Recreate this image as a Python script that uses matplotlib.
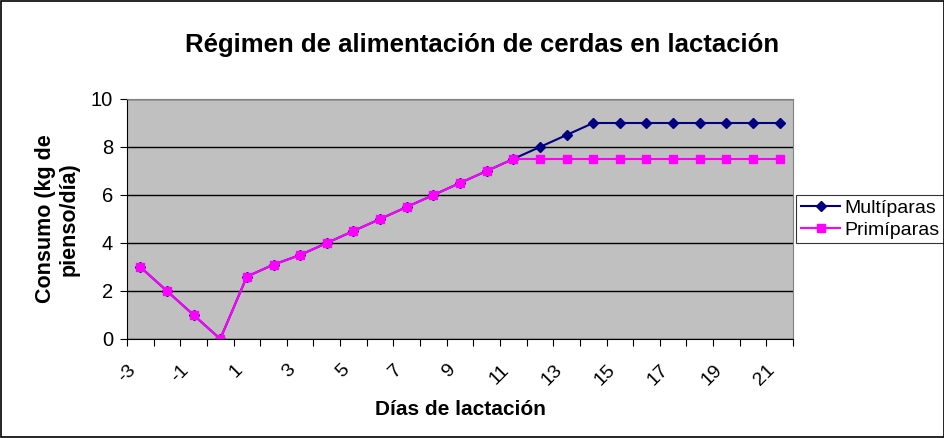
import matplotlib
matplotlib.use("Agg")
import matplotlib.pyplot as plt
import matplotlib.transforms as mtransforms
from matplotlib.patches import Rectangle
import numpy as np

dias = list(range(-3, 22))
multiparas = [3, 2, 1, 0, 2.6, 3.1, 3.5, 4, 4.5, 5, 5.5, 6, 6.5, 7, 7.5,
              8, 8.5, 9, 9, 9, 9, 9, 9, 9, 9]
primiparas = [3, 2, 1, 0, 2.6, 3.1, 3.5, 4, 4.5, 5, 5.5, 6, 6.5, 7, 7.5,
              7.5, 7.5, 7.5, 7.5, 7.5, 7.5, 7.5, 7.5, 7.5, 7.5]
yticks = [0, 2, 4, 6, 8, 10]

plt.rcParams["font.family"] = ["Liberation Sans", "DejaVu Sans"]

fig = plt.figure(figsize=(9.45, 4.38), dpi=100)
ax = fig.add_axes([127 / 945, 99 / 438, 666 / 945, 240 / 438])
ax.set_facecolor("#C0C0C0")

x = np.arange(len(dias))
ax.plot(x, multiparas, color="#000080", marker="D", markersize=5, lw=1.5,
        label="Multíparas")
ax.plot(x, primiparas, color="#FF00FF", marker="s", markersize=6, lw=1.5,
        label="Primíparas")

ax.set_xlim(-0.5, len(dias) - 0.5)
ax.set_ylim(0, 10)
ax.set_yticks(yticks)
ax.yaxis.grid(True, color="black", lw=1)
ax.set_axisbelow(True)

# category ticks between points, labels every other category
ax.set_xticks(np.arange(-0.5, len(dias), 1.0), minor=False)
ax.set_xticklabels([])
ax.set_xticks(x[::2], minor=True)
ax.set_xticklabels([str(d) for d in dias[::2]], minor=True, rotation=45,
                   ha="right", va="top", rotation_mode="anchor", fontsize=14)
ax.tick_params(axis="x", which="minor", length=0, pad=14)
ax.tick_params(axis="x", which="major", length=5, direction="out")
ax.tick_params(axis="y", labelsize=14.5, length=5, pad=5)
shift = mtransforms.ScaledTranslation(-0.13, -0.03, fig.dpi_scale_trans)
for lbl in ax.get_xticklabels(minor=True):
    lbl.set_transform(lbl.get_transform() + shift)

for side in ["top", "right"]:
    ax.spines[side].set_color("#808080")
ax.spines["left"].set_color("black")
ax.spines["bottom"].set_color("black")

ax.set_xlabel("Días de lactación", fontsize=15, fontweight="bold", labelpad=8)
ax.set_ylabel("Consumo (kg de\npienso/día)", fontsize=15.5, fontweight="bold",
              labelpad=8, linespacing=1.15)
fig.text(482 / 945, 1 - 45 / 438, "Régimen de alimentación de cerdas en lactación",
         ha="center", va="center", fontsize=18.5, fontweight="bold")

leg = ax.legend(loc="center left", bbox_to_anchor=(1.005, 0.5), fontsize=14,
                frameon=True, fancybox=False, edgecolor="black",
                borderpad=0.25, handlelength=2.0, handletextpad=0.2,
                labelspacing=0.2, borderaxespad=0)
leg.get_frame().set_linewidth(0.8)

fig.patches.append(Rectangle((0.001, 0.002), 0.998, 0.996,
                             transform=fig.transFigure, fill=False,
                             edgecolor="black", lw=1.2))

fig.savefig("out.png", dpi=100)
